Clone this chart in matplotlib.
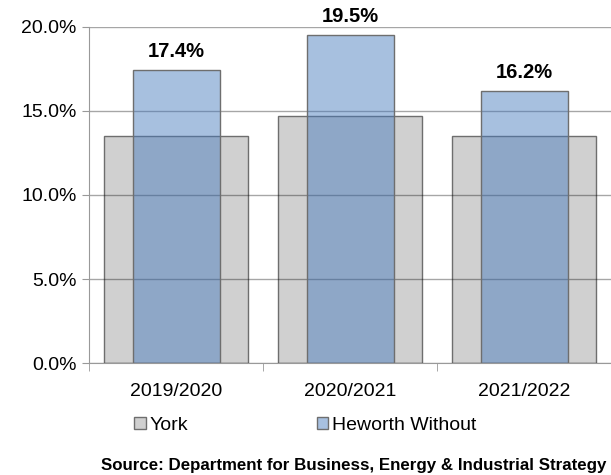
import numpy as np
import matplotlib
matplotlib.use("Agg")
import matplotlib.pyplot as plt
from matplotlib.patches import Patch
from matplotlib.ticker import FuncFormatter

plt.rcParams['font.family'] = ['Liberation Sans', 'DejaVu Sans']

## Data
years = ["2019/2020", "2020/2021", "2021/2022"]
york = [13.5, 14.7, 13.5]
heworth = [17.4, 19.5, 16.2]

grey_fc = '#d0d0d0'
blue_fc = (0.27, 0.475, 0.74, 0.47)
edge = '#6e6e6e'

fig = plt.figure(figsize=(6.11, 4.75), dpi=100)
ax = fig.add_axes([0.1457, 0.2352, 0.8543, 0.7086])

x = np.arange(len(years))

## Wide grey bars behind, narrower blue bars on top
ax.bar(x, york, width=0.833, color=grey_fc, edgecolor=edge, linewidth=1, zorder=2)
ax.bar(x, heworth, width=0.5, color=blue_fc, edgecolor=edge, linewidth=1, zorder=3)

## Value labels above the blue bars
for xi, v in zip(x, heworth):
    ax.annotate('%.1f%%' % v, (xi, v), xytext=(0, 6.5), textcoords='offset points',
                ha='center', va='bottom', fontsize=14.5, fontweight='bold')

## Axes
ax.set_xlim(-0.5, 2.5)
ax.set_ylim(0, 20)
ax.set_yticks(np.arange(0, 20.1, 5))
ax.yaxis.set_major_formatter(FuncFormatter(lambda v, p: '%.1f%%' % v))
ax.set_xticks(x)
ax.set_xticklabels(years)
ax.set_xticks([-0.5, 0.5, 1.5, 2.5], minor=True)
ax.tick_params(axis='x', which='major', length=0, pad=14, labelsize=14)
ax.tick_params(axis='x', which='minor', length=6, color='#999999')
ax.tick_params(axis='y', length=5, color='#999999', labelsize=14, pad=4)

ax.grid(axis='y', color='black', alpha=0.35, linewidth=1, zorder=4)
ax.set_axisbelow(False)
for s in ['top', 'right']:
    ax.spines[s].set_visible(False)
for s in ['left', 'bottom']:
    ax.spines[s].set_color('#999999')
    ax.spines[s].set_zorder(5)

## Legend
handles = [Patch(facecolor=grey_fc, edgecolor=edge, label='York'),
           Patch(facecolor='#a7c0e0', edgecolor=edge, label='Heworth Without')]
fig.legend(handles=handles, loc='center', bbox_to_anchor=(0.50, 0.105), ncol=2,
           frameon=False, fontsize=14, handlelength=0.6, handleheight=0.6,
           handletextpad=0.2, columnspacing=6.6)

fig.text(0.992, 0.004, 'Source: Department for Business, Energy & Industrial Strategy',
         ha='right', va='bottom', fontsize=12.2, fontweight='bold')

fig.savefig('out.png', dpi=100)
